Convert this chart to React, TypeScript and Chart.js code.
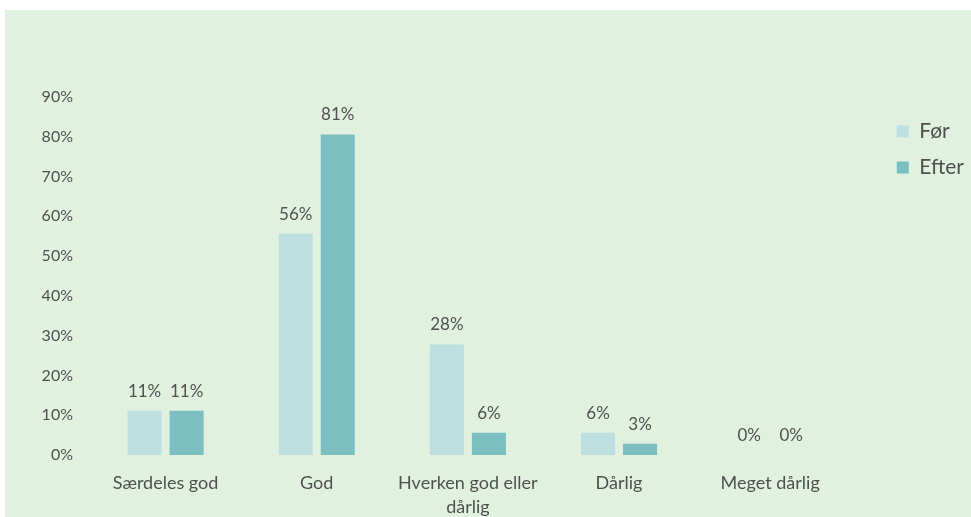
import React, { useEffect, useRef } from "react";
import { Chart, registerables } from "chart.js";

Chart.register(...registerables);

const categories: (string | string[])[] = [
  "Særdeles god",
  "God",
  ["Hverken god eller", "dårlig"],
  "Dårlig",
  "Meget dårlig",
];
const forValues = [11.1, 55.6, 27.8, 5.6, 0];
const efterValues = [11.1, 80.6, 5.6, 2.8, 0];
const yTicks = [0, 10, 20, 30, 40, 50, 60, 70, 80, 90];

const FONT = "Lato, 'Open Sans', sans-serif";
const TEXT = "#505050";

const valueLabels = {
  id: "valueLabels",
  afterDatasetsDraw(chart: any) {
    const ctx = chart.ctx;
    ctx.save();
    ctx.font = `17px ${FONT}`;
    ctx.fillStyle = TEXT;
    ctx.textAlign = "center";
    ctx.textBaseline = "bottom";
    chart.data.datasets.forEach((ds: any, i: number) => {
      const meta = chart.getDatasetMeta(i);
      meta.data.forEach((el: any, j: number) => {
        const v = ds.data[j];
        ctx.fillText(`${Math.round(v)}%`, el.x, el.y - 11);
      });
    });
    ctx.restore();
  },
};

const legendPlacer = {
  id: "legendPlacer",
  afterLayout(chart: any) {
    const lg = chart.legend;
    if (!lg) return;
    const pad = 15;
    const left = chart.chartArea.right + 51 - pad;
    const w = lg.width;
    lg.left = left;
    lg.right = left + w;
    lg.top += 9;
    lg.bottom += 9;
  },
};

export default function App() {
  const ref = useRef<HTMLCanvasElement>(null);
  useEffect(() => {
    document.body.style.margin = "0";
    const chart = new Chart(ref.current!, {
      type: "bar",
      data: {
        labels: categories,
        datasets: [
          { label: "Før", data: forValues, backgroundColor: "#bddfe0" },
          { label: "Efter", data: efterValues, backgroundColor: "#7bbfc0" },
        ],
      },
      options: {
        animation: false,
        responsive: false,
        maintainAspectRatio: false,
        layout: { padding: { top: 87, right: 33, left: 0, bottom: 0 } },
        datasets: {
          bar: { categoryPercentage: 0.556, barPercentage: 0.81 },
        } as any,
        plugins: {
          legend: {
            position: "right",
            align: "start",
            labels: {
              boxWidth: 12,
              boxHeight: 12,
              color: TEXT,
              font: { family: FONT, size: 21 },
              padding: 15,
            },
          },
          tooltip: { enabled: false },
        },
        scales: {
          x: {
            grid: { display: false, drawTicks: false },
            border: { display: false },
            ticks: {
              color: TEXT,
              font: { family: FONT, size: 18, lineHeight: 1.35 },
              padding: 16,
              maxRotation: 0,
              autoSkip: false,
            },
            afterFit: (s: any) => {
              s.height = 62;
            },
          },
          y: {
            min: 0,
            max: 90,
            grid: { display: false, drawTicks: false },
            border: { display: false },
            afterBuildTicks: (s: any) => {
              s.ticks = yTicks.map((v) => ({ value: v }));
            },
            ticks: {
              color: TEXT,
              font: { family: FONT, size: 16 },
              padding: 17,
              callback: (v: any) => `${v}%`,
            },
            afterFit: (s: any) => {
              s.width = 85;
            },
          },
        },
      },
      plugins: [valueLabels, legendPlacer],
    });
    return () => chart.destroy();
  }, []);
  return (
    <div
      style={{
        position: "absolute",
        left: 5,
        top: 10,
        width: 966,
        height: 507,
        background: "#e0f1e0",
      }}
    >
      <canvas ref={ref} width={966} height={507} />
    </div>
  );
}
